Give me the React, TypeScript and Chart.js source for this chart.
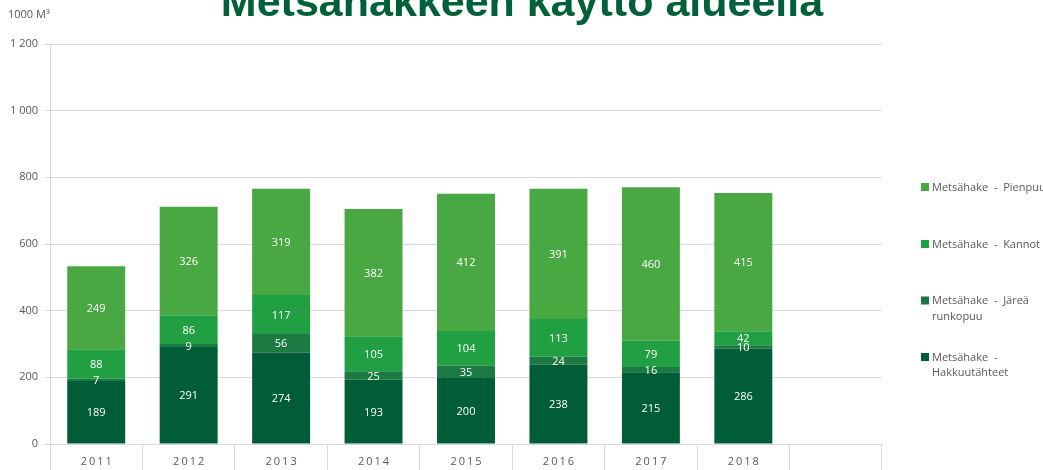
import { useEffect, useRef } from "react";
import { Chart, registerables } from "chart.js";

Chart.register(...registerables);

const TITLE = "Metsähakkeen käyttö alueella";
const UNIT_LABEL = "1000 M³";
const YEARS = ["2011", "2012", "2013", "2014", "2015", "2016", "2017", "2018"];
const HAKKUUTAHTEET = [189, 291, 274, 193, 200, 238, 215, 286];
const JAREA_RUNKOPUU = [7, 9, 56, 25, 35, 24, 16, 10];
const KANNOT = [88, 86, 117, 105, 104, 113, 79, 42];
const PIENPUU = [249, 326, 319, 382, 412, 391, 460, 415];

const SERIES_NAMES = [
  "Metsähake  -  Hakkuutähteet",
  "Metsähake  -  Järeä runkopuu",
  "Metsähake  -  Kannot",
  "Metsähake  -  Pienpuu",
];
const LEGEND_LINES = [
  ["Metsähake  -", "Hakkuutähteet"],
  ["Metsähake  -  Järeä", "runkopuu"],
  ["Metsähake  -  Kannot"],
  ["Metsähake  -  Pienpuu"],
];
const COLORS = ["#005d38", "#1b7a42", "#21a043", "#4aa843"];

const Y_MIN = 0;
const Y_MAX = 1200;
const Y_STEP = 200;

const FONT = "'Open Sans', 'DejaVu Sans', sans-serif";
const GRID = "#d9d9d9";
const TEXT = "#595959";

const fmt = (v: number) => String(v).replace(/\B(?=(\d{3})+(?!\d))/g, " ");

const overlay = {
  id: "overlay",
  afterDraw(chart: any) {
    const ctx = chart.ctx as CanvasRenderingContext2D;
    ctx.save();
    // title
    ctx.fillStyle = "#00603a";
    ctx.font = "bold 43px 'Liberation Sans', Arial, sans-serif";
    ctx.textAlign = "center";
    ctx.textBaseline = "alphabetic";
    ctx.fillText(TITLE, 522, 15.5);
    // unit label
    ctx.fillStyle = TEXT;
    ctx.font = `11px ${FONT}`;
    ctx.textAlign = "left";
    ctx.textBaseline = "middle";
    ctx.fillText(UNIT_LABEL, 8, 14.5);
    // x labels
    const xs = chart.scales.x;
    ctx.font = `11px ${FONT}`;
    (ctx as any).letterSpacing = "2px";
    ctx.textAlign = "center";
    YEARS.forEach((y, i) => ctx.fillText(y, xs.getPixelForValue(i) + 1, 461.5));
    (ctx as any).letterSpacing = "0px";
    // data labels
    ctx.fillStyle = "#ffffff";
    ctx.font = `11px ${FONT}`;
    chart.data.datasets.forEach((ds: any, di: number) => {
      const meta = chart.getDatasetMeta(di);
      meta.data.forEach((bar: any, i: number) => {
        const v = ds.data[i];
        if (v == null) return;
        const p = bar.getProps(["x", "y", "base"], true);
        ctx.fillText(String(v), p.x, (p.y + p.base) / 2 + 1);
      });
    });
    // legend
    const order = [3, 2, 1, 0];
    const ys = [187, 244, 300.5, 357];
    ctx.font = `11px ${FONT}`;
    ctx.textAlign = "left";
    order.forEach((di, k) => {
      const y = ys[k];
      ctx.fillStyle = COLORS[di];
      ctx.fillRect(921, y - 4, 8, 8);
      ctx.fillStyle = TEXT;
      LEGEND_LINES[di].forEach((line, li) => ctx.fillText(line, 932, y + li * 15.5 + 0.5));
    });
    ctx.restore();
  },
};

export default function App() {
  const ref = useRef<HTMLCanvasElement>(null);
  useEffect(() => {
    document.body.style.margin = "0";
    const datasets = [HAKKUUTAHTEET, JAREA_RUNKOPUU, KANNOT, PIENPUU].map((d, i) => ({
      label: SERIES_NAMES[i],
      data: d,
      backgroundColor: COLORS[i],
      borderWidth: 0,
      categoryPercentage: 1,
      barPercentage: 0.627,
    }));
    const chart = new Chart(ref.current!, {
      type: "bar",
      data: { labels: [...YEARS, ""], datasets },
      options: {
        animation: false,
        responsive: false,
        layout: { padding: { left: 0, right: 161, top: 44, bottom: 0 } },
        plugins: { legend: { display: false }, tooltip: { enabled: false }, title: { display: false } },
        scales: {
          x: {
            stacked: true,
            offset: true,
            grid: {
              display: true,
              offset: true,
              drawOnChartArea: false,
              drawTicks: true,
              tickLength: 30,
              color: GRID,
            },
            border: { display: true, color: GRID },
            ticks: { display: false },
            afterFit: (s: any) => {
              s.height = 26;
            },
          },
          y: {
            stacked: true,
            min: Y_MIN,
            max: Y_MAX,
            grid: { color: GRID, tickLength: 5, drawTicks: true },
            border: { display: true, color: GRID },
            ticks: {
              stepSize: Y_STEP,
              color: TEXT,
              font: { size: 11, family: FONT },
              padding: 7,
              callback: (v: any) => fmt(Number(v)),
            },
            afterFit: (s: any) => {
              s.width = 50;
            },
          },
        },
      },
      plugins: [overlay],
    });
    return () => chart.destroy();
  }, []);
  return (
    <div style={{ width: 1043, height: 470 }}>
      <canvas ref={ref} width={1043} height={470} />
    </div>
  );
}
